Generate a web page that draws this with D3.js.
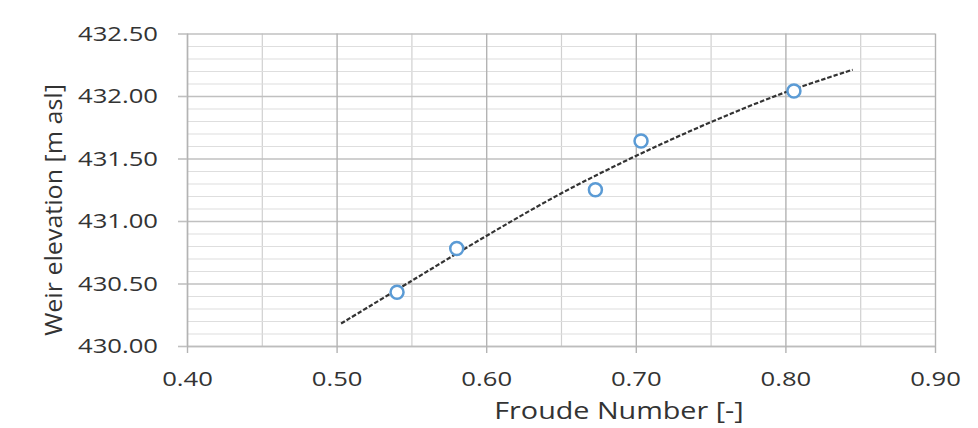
<!DOCTYPE html>
<html>
<head>
<meta charset="utf-8">
<script src="https://cdn.jsdelivr.net/npm/d3@7"></script>
<style>
  html, body { margin: 0; padding: 0; background: #ffffff; }
  svg { display: block; }
  text { font-family: "Open Sans", "Noto Sans", sans-serif; fill: #333333; }
</style>
</head>
<body>
<svg id="chart" width="978" height="428"></svg>
<script>
// Measured weir elevations against Froude number
const froude = [0.5404, 0.5803, 0.673, 0.7035, 0.8057];
const elevation = [430.43, 430.78, 431.25, 431.64, 432.04];

// Polynomial trendline, sampled along its length
const trendFroude = [0.503, 0.55, 0.60, 0.65, 0.70, 0.75, 0.80, 0.845];
const trendElevation = [430.18, 430.52, 430.88, 431.22, 431.52, 431.79, 432.03, 432.21];

// Axis ticks
const xMajorTicks = [0.40, 0.50, 0.60, 0.70, 0.80, 0.90];
const xMinorTicks = [0.45, 0.55, 0.65, 0.75, 0.85];
const yMajorTicks = [430.00, 430.50, 431.00, 431.50, 432.00, 432.50];
const yMinorTicks = [430.1, 430.2, 430.3, 430.4, 430.6, 430.7, 430.8, 430.9,
                     431.1, 431.2, 431.3, 431.4, 431.6, 431.7, 431.8, 431.9,
                     432.1, 432.2, 432.3, 432.4];

const xTitle = "Froude Number [-]";
const yTitle = "Weir elevation [m asl]";

const svg = d3.select("#chart");
const plotLeft = 187, plotRight = 935, plotTop = 33.5, plotBottom = 346;
const stretch = 1.25; // horizontal glyph stretch used for all horizontal text

const x = d3.scaleLinear().domain([0.40, 0.90]).range([plotLeft, plotRight]);
const y = d3.scaleLinear().domain([430.00, 432.50]).range([plotBottom, plotTop]);
const fmt = d3.format(".2f");

// Grid: minor first, major on top
const grid = svg.append("g");
grid.append("g")
  .attr("transform", `translate(0,${plotBottom})`)
  .call(d3.axisBottom(x).tickValues(xMinorTicks).tickSize(-(plotBottom - plotTop)).tickFormat(""))
  .call(g => g.select(".domain").remove())
  .call(g => g.selectAll("line").attr("stroke", "#d0d0d0").attr("stroke-width", 1.2));
grid.append("g")
  .attr("transform", `translate(${plotLeft},0)`)
  .call(d3.axisLeft(y).tickValues(yMinorTicks).tickSize(-(plotRight - plotLeft)).tickFormat(""))
  .call(g => g.select(".domain").remove())
  .call(g => g.selectAll("line").attr("stroke", "#dedede").attr("stroke-width", 1.2));
grid.append("g")
  .attr("transform", `translate(${plotLeft},0)`)
  .call(d3.axisLeft(y).tickValues(yMajorTicks).tickSize(-(plotRight - plotLeft)).tickFormat(""))
  .call(g => g.select(".domain").remove())
  .call(g => g.selectAll("line").attr("stroke", "#c0c0c0").attr("stroke-width", 1.6));
grid.append("g")
  .attr("transform", `translate(0,${plotBottom})`)
  .call(d3.axisBottom(x).tickValues(xMajorTicks).tickSize(-(plotBottom - plotTop)).tickFormat(""))
  .call(g => g.select(".domain").remove())
  .call(g => g.selectAll("line").attr("stroke", "#b3b3b3").attr("stroke-width", 1.4));

// Bottom axis with outward ticks
const xAxis = svg.append("g")
  .attr("transform", `translate(0,${plotBottom})`)
  .call(d3.axisBottom(x).tickValues(xMajorTicks).tickSize(7).tickSizeOuter(0)
    .tickPadding(18).tickFormat(fmt));
xAxis.select(".domain").attr("stroke", "#bdbdbd").attr("stroke-width", 1.6);
xAxis.selectAll(".tick line").attr("stroke", "#b3b3b3").attr("stroke-width", 1.4);
xAxis.selectAll(".tick text")
  .attr("font-size", 20.5).attr("fill", "#333333")
  .attr("transform", `scale(${stretch},1)`);

// Left axis with outward ticks
const yAxis = svg.append("g")
  .attr("transform", `translate(${plotLeft},0)`)
  .call(d3.axisLeft(y).tickValues(yMajorTicks).tickSize(9).tickSizeOuter(0)
    .tickPadding(20).tickFormat(fmt));
yAxis.select(".domain").attr("stroke", "#b3b3b3").attr("stroke-width", 1.4);
yAxis.selectAll(".tick line").attr("stroke", "#c0c0c0").attr("stroke-width", 1.6);
yAxis.selectAll(".tick text")
  .attr("font-size", 20.5).attr("fill", "#333333")
  .attr("x", 0)
  .attr("transform", `translate(-29,0) scale(${stretch},1)`);

// Axis titles
svg.append("text")
  .attr("transform", `translate(619,419) scale(${stretch},1)`)
  .attr("text-anchor", "middle")
  .attr("font-size", 23)
  .text(xTitle);
svg.append("text")
  .attr("transform", "translate(62,210) rotate(-90) scale(1.09,1)")
  .attr("text-anchor", "middle")
  .attr("font-size", 23)
  .text(yTitle);

// Dashed trendline
const trend = trendFroude.map((f, i) => [f, trendElevation[i]]);
svg.append("path")
  .datum(trend)
  .attr("fill", "none")
  .attr("stroke", "#333333")
  .attr("stroke-width", 2.2)
  .attr("stroke-dasharray", "4.5,2")
  .attr("d", d3.line().x(d => x(d[0])).y(d => y(d[1])).curve(d3.curveCatmullRom));

// Observations
svg.append("g")
  .selectAll("circle")
  .data(froude.map((f, i) => [f, elevation[i]]))
  .join("circle")
  .attr("cx", d => x(d[0]))
  .attr("cy", d => y(d[1]))
  .attr("r", 6.5)
  .attr("fill", "#ffffff")
  .attr("stroke", "#5b9bd5")
  .attr("stroke-width", 2.5);
</script>
</body>
</html>
